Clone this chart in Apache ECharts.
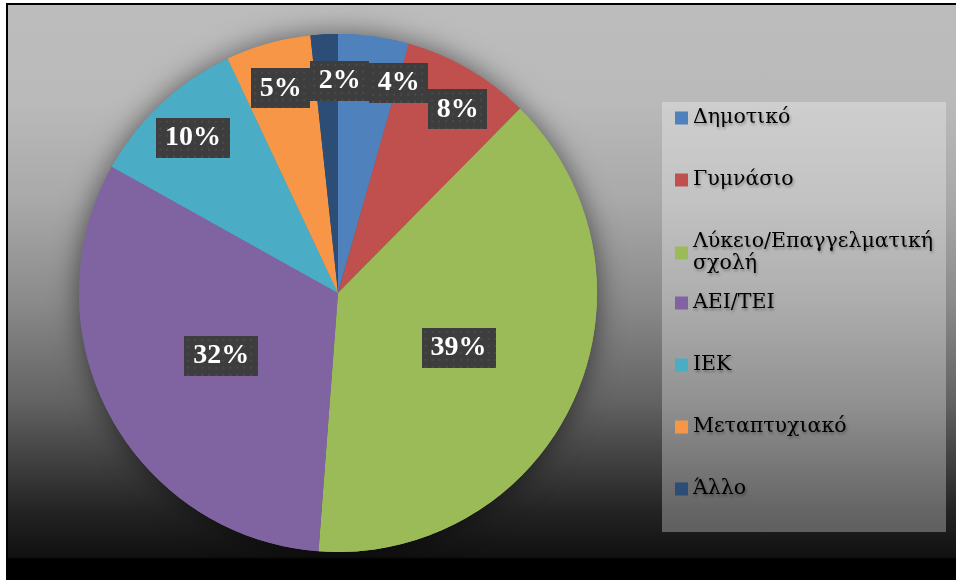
<!DOCTYPE html>
<html>
<head>
<meta charset="utf-8">
<script src="https://cdn.jsdelivr.net/npm/echarts@6/dist/echarts.min.js"></script>
<style>
  html, body { margin: 0; padding: 0; background: #fff; }
  #bg {
    position: absolute; left: 6px; top: 3px; width: 950px; height: 575px;
    border-left: 2px solid #000; border-top: 2px solid #000;
    background: linear-gradient(to bottom, #bcbcbc 0px, #bababa 95px, #a9a9a9 195px, #8b8b8b 295px,
      #636363 395px, #3b3b3b 465px, #242424 505px, #151515 540px, #111 552px, #000 554px, #000 100%);
  }
  #chart { position: absolute; left: 0; top: 0; width: 956px; height: 580px; }
</style>
</head>
<body>
<div id="bg"></div>
<div id="chart"></div>
<script>
// education levels
var levelNames = ['Δημοτικό', 'Γυμνάσιο', 'Λύκειο/Επαγγελματική σχολή', 'ΑΕΙ/ΤΕΙ', 'ΙΕΚ', 'Μεταπτυχιακό', 'Άλλο']
var levelValues = [4.4, 8.0, 38.8, 31.9, 9.9, 5.3, 1.7]
var levelColors = ['#4f81bd', '#c0504d', '#9bbb59', '#8064a2', '#4bacc6', '#f79646', '#2c4d75']

// dotted dark label boxes
function dotBox(w, h) {
  var c = document.createElement('canvas')
  c.width = w
  c.height = h
  var ctx = c.getContext('2d')
  ctx.fillStyle = '#3d3d3d'
  ctx.fillRect(0, 0, w, h)
  ctx.fillStyle = '#4b4b4b'
  for (var y = 3; y < h; y += 7) {
    for (var x = 3; x < w; x += 7) {
      ctx.fillRect(x, y, 2, 2)
    }
  }
  return c
}
var smallBox = dotBox(59, 40)
var bigBox = dotBox(74, 40)

var boxStyle = {
  color: '#fff',
  fontFamily: 'Liberation Serif',
  fontWeight: 'bold',
  fontSize: 28,
  height: 40,
  lineHeight: 40,
  align: 'center',
  shadowColor: 'rgba(0,0,0,0.55)',
  shadowBlur: 6,
  shadowOffsetX: 3,
  shadowOffsetY: 3,
}
var pctLabel = {
  position: 'inside',
  formatter: function (p) {
    var t = Math.round(p.percent) + '%'
    return (t.length > 2 ? '{b|' : '{s|') + t + '}'
  },
  rich: {
    s: Object.assign({}, boxStyle, { width: 59, backgroundColor: { image: smallBox } }),
    b: Object.assign({}, boxStyle, { width: 74, backgroundColor: { image: bigBox } }),
  },
}

var chart = echarts.init(document.getElementById('chart'))
var legendText = {
  color: '#000',
  fontFamily: 'DejaVu Serif',
  fontSize: 20.5,
  lineHeight: 22,
  textShadowColor: 'rgba(0,0,0,0.35)',
  textShadowBlur: 3,
  textShadowOffsetX: 1,
  textShadowOffsetY: 2,
}
function legendName(name) {
  // long name goes on two lines
  return name.length > 20 ? name.replace(' ', '\n') : name
}
var option = {
  backgroundColor: 'transparent',
  animation: false,
  color: levelColors,
  graphic: [
    {
      type: 'rect',
      z: 0,
      shape: { x: 662, y: 102, width: 284, height: 430 },
      style: { fill: 'rgba(255,255,255,0.3)' },
      silent: true,
    },
  ],
  legend: [
    {
      orient: 'vertical',
      left: 675,
      top: 107,
      padding: 0,
      itemGap: 40,
      itemWidth: 13,
      itemHeight: 13,
      icon: 'rect',
      selectedMode: false,
      formatter: legendName,
      data: levelNames.slice(0, 3),
      textStyle: legendText,
    },
    {
      orient: 'vertical',
      left: 675,
      top: 292,
      padding: 0,
      itemGap: 40,
      itemWidth: 13,
      itemHeight: 13,
      icon: 'rect',
      selectedMode: false,
      formatter: legendName,
      data: levelNames.slice(3),
      textStyle: legendText,
    },
  ],
  series: [
    {
      name: 'main',
      type: 'pie',
      z: 2,
      center: [338, 293],
      radius: [0, 259],
      startAngle: 90,
      clockwise: true,
      avoidLabelOverlap: false,
      emphasis: { disabled: true },
      label: pctLabel,
      labelLine: { show: false },
      data: levelNames.map(function (n, i) {
        return { name: n, value: levelValues[i], label: { show: levelValues[i] >= 15 } }
      }),
    },
    {
      name: 'shadow',
      type: 'pie',
      z: 1,
      silent: true,
      center: [338, 293],
      radius: [0, 259],
      startAngle: 90,
      label: { show: false },
      labelLine: { show: false },
      itemStyle: { shadowBlur: 28, shadowColor: 'rgba(0,0,0,0.55)' },
      data: levelNames.map(function (n, i) {
        return { name: n, value: levelValues[i] }
      }),
    },
    {
      name: 'labels',
      type: 'pie',
      z: 3,
      silent: true,
      center: [338, 293],
      radius: [160, 259],
      startAngle: 90,
      avoidLabelOverlap: false,
      itemStyle: { color: 'rgba(0,0,0,0)' },
      label: pctLabel,
      labelLine: { show: false },
      labelLayout: { hideOverlap: false, moveOverlap: 'shiftX' },
      data: levelNames.map(function (n, i) {
        return { name: n, value: levelValues[i], label: { show: levelValues[i] < 15 } }
      }),
    },
  ],
}
chart.setOption(option)
</script>
</body>
</html>
